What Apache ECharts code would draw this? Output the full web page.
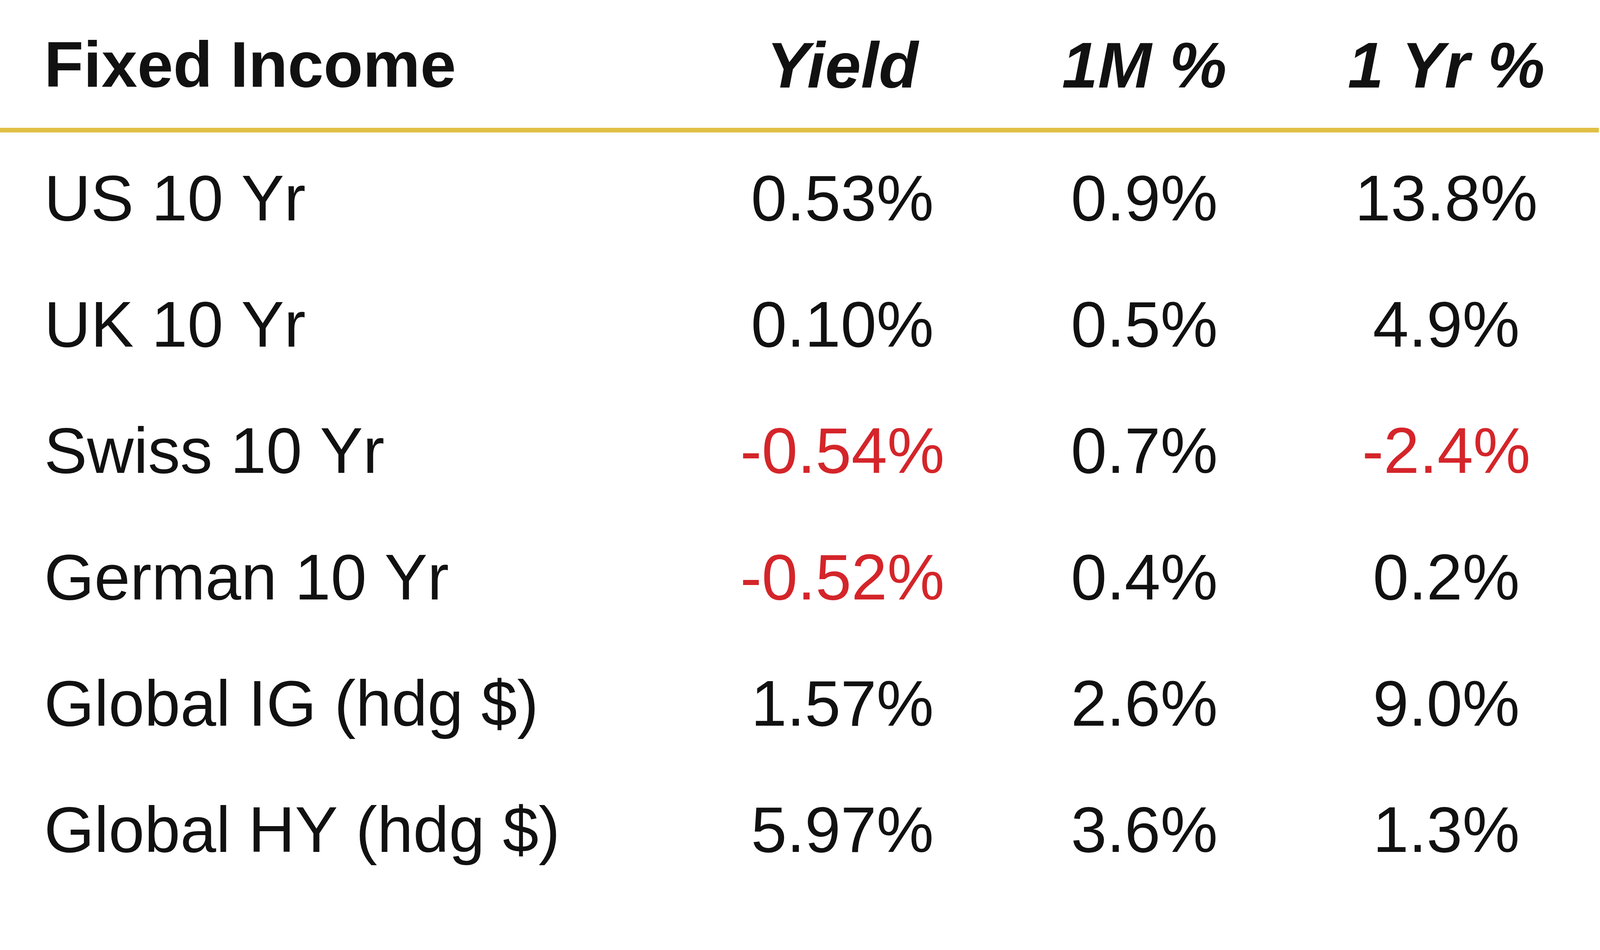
<!DOCTYPE html>
<html>
<head>
<meta charset="utf-8">
<script src="https://cdn.jsdelivr.net/npm/echarts@6/dist/echarts.min.js"></script>
<style>
  html, body { margin: 0; padding: 0; background: #fff; }
  #main { width: 4224px; height: 2431px; }
</style>
</head>
<body>
<div id="main"></div>
<script>
// table data
var tableTitle = 'Fixed Income';
var columns = ['Yield', '1M %', '1 Yr %'];
var rows = ['US 10 Yr', 'UK 10 Yr', 'Swiss 10 Yr', 'German 10 Yr', 'Global IG (hdg $)', 'Global HY (hdg $)'];
var yieldPct = [0.53, 0.10, -0.54, -0.52, 1.57, 5.97];
var oneMonthPct = [0.9, 0.5, 0.7, 0.4, 2.6, 3.6];
var oneYearPct = [13.8, 4.9, -2.4, 0.2, 9.0, 1.3];
var decimals = [2, 1, 1];

var chart = echarts.init(document.getElementById('main'));

var FONT = '"Liberation Sans", Arial, sans-serif';
var SIZE = 165;
var BLACK = '#111111';
var RED = '#d4252a';

function makeSeries(values, colIdx) {
  return {
    type: 'scatter',
    symbolSize: 0,
    silent: true,
    itemStyle: { opacity: 1 },
    data: values.map(function (v, i) {
      return {
        value: [colIdx, i, v],
        label: { color: v < 0 ? RED : BLACK }
      };
    }),
    label: {
      show: true,
      position: 'inside',
      opacity: 1,
      fontFamily: FONT,
      fontSize: SIZE,
      formatter: function (p) {
        return p.value[2].toFixed(decimals[colIdx]) + '%';
      }
    }
  };
}

var option = {
  backgroundColor: '#ffffff',
  animation: false,
  grid: { left: 1770, right: 135, top: 357, bottom: 135 },
  xAxis: {
    type: 'category',
    position: 'top',
    data: columns,
    axisLine: { show: false },
    axisTick: { show: false },
    splitLine: { show: false },
    axisLabel: {
      margin: 179,
      verticalAlign: 'middle',
      fontFamily: FONT,
      fontSize: SIZE,
      fontWeight: 'bold',
      fontStyle: 'italic',
      color: BLACK
    }
  },
  yAxis: {
    type: 'category',
    inverse: true,
    data: rows,
    axisLine: { show: false },
    axisTick: { show: false },
    splitLine: { show: false },
    axisLabel: {
      align: 'left',
      margin: 1770 - 113,
      fontFamily: FONT,
      fontSize: SIZE,
      color: BLACK
    }
  },
  graphic: [
    {
      type: 'text',
      x: 113,
      y: 176,
      style: {
        text: tableTitle,
        font: 'bold ' + SIZE + 'px ' + FONT,
        fill: BLACK,
        verticalAlign: 'middle'
      }
    },
    {
      type: 'rect',
      shape: { x: 0, y: 327, width: 4093, height: 12 },
      style: { fill: '#e0bf45' }
    }
  ],
  series: [
    makeSeries(yieldPct, 0),
    makeSeries(oneMonthPct, 1),
    makeSeries(oneYearPct, 2)
  ]
};

chart.setOption(option);
</script>
</body>
</html>
